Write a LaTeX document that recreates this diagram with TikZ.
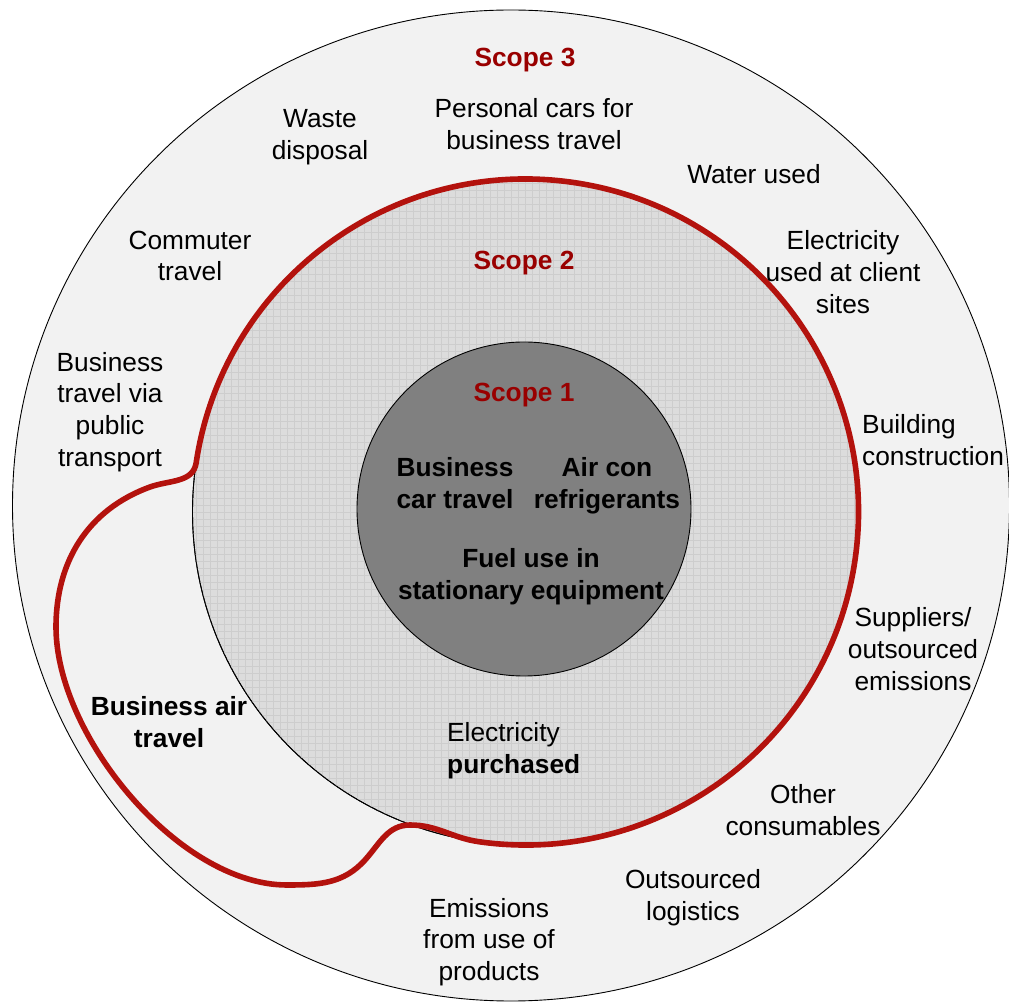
\documentclass[tikz,border=0pt]{standalone}
\usepackage{fontspec}
\setmainfont{Liberation Sans}
\usepackage{xcolor}
\usepackage{tikz}
\definecolor{ringout}{HTML}{F2F2F2}
\definecolor{ringmid}{HTML}{DCDCDC}
\definecolor{gridmid}{HTML}{CDCDCD}
\definecolor{core}{HTML}{808080}
\definecolor{scopered}{HTML}{990000}
\definecolor{linered}{HTML}{B3120D}
\tikzset{
  ring/.style={draw=black, line width=0.9pt},
  gridline/.style={draw=gridmid, line width=0.6pt},
  redline/.style={draw=linered, line width=5.6pt, line join=round},
  item/.style={font=\fontsize{26.3}{31.7}\selectfont, align=center, inner sep=0pt},
  bitem/.style={item, font=\fontsize{26.3}{31.7}\selectfont\bfseries},
  scopelab/.style={bitem, text=scopered},
}

\begin{document}
\begin{tikzpicture}[x=1pt, y=1pt]
  \useasboundingbox (0,0) rectangle (1009,1002);
  \fill[white] (0,0) rectangle (1009,1002);

  \coordinate (c3) at (511,496.5);  % outer ring
  \coordinate (c2) at (525.5,490);  % middle ring
  \coordinate (c1) at (524,493);    % core

  \draw[ring, fill=ringout] (c3) ellipse [x radius=498.5, y radius=495.5];
  \draw[ring, fill=ringmid] (c2) circle (333);
  \begin{scope}
    \clip (c2) circle (333);
    \draw[gridline, step=7] (190,155) grid (862,825);
  \end{scope}
  \draw[ring] (c2) circle (333);
  \draw[ring, fill=core] (c1) circle (167);

  % red boundary: round the middle ring, then out to take in air travel
  \draw[redline] (c2) ++(171.5:333) coordinate (joint)
    arc[start angle=171.5, end angle=-98, radius=333]
    to[out=172, in=0] (410,177)
    to[out=180, in=48] (365,142)
    to[out=228, in=0] (287,117)
    to[out=180, in=-90, looseness=0.8] (56,375)
    to[out=90, in=200] (150,515)
    to[out=20, in=261.5] (joint) -- cycle;

  % scope 3
  \node[scopelab] (s3) at (525,942) {Scope 3};
  \node[item] (waste) at (320,865) {Waste\\disposal};
  \node[item] (cars) at (534,878) {Personal cars for\\business travel};
  \node[item] (water) at (754,828) {Water used};
  \node[item] (commute) at (190,746) {Commuter\\travel};
  \node[item] (client) at (843,730) {Electricity\\used at client\\sites};
  \node[item] (transit) at (110,590) {Business\\travel via\\public\\transport};
  \node[item, anchor=west, align=left] (build) at (862,562) {Building\\construction};
  \node[item] (supply) at (913,353) {Suppliers/\\outsourced\\emissions};
  \node[bitem] (air) at (169,280) {Business air\\travel};
  \node[item] (other) at (803,192) {Other\\consumables};
  \node[item] (logist) at (693,104) {Outsourced\\logistics};
  \node[item] (usephase) at (489,60) {Emissions\\from use of\\products};

  % scope 2
  \node[scopelab] (s2) at (524,739) {Scope 2};
  \node[item, anchor=west, align=left] (bought) at (447,251) {Electricity\\\textbf{purchased}};

  % scope 1
  \node[scopelab] (s1) at (524,607) {Scope 1};
  \node[bitem] (carbiz) at (455,519) {Business\\car travel};
  \node[bitem] (aircon) at (607,516) {Air con\\refrigerants};
  \node[bitem] (fuel) at (531,425) {Fuel use in\\stationary equipment};
\end{tikzpicture}
\end{document}
